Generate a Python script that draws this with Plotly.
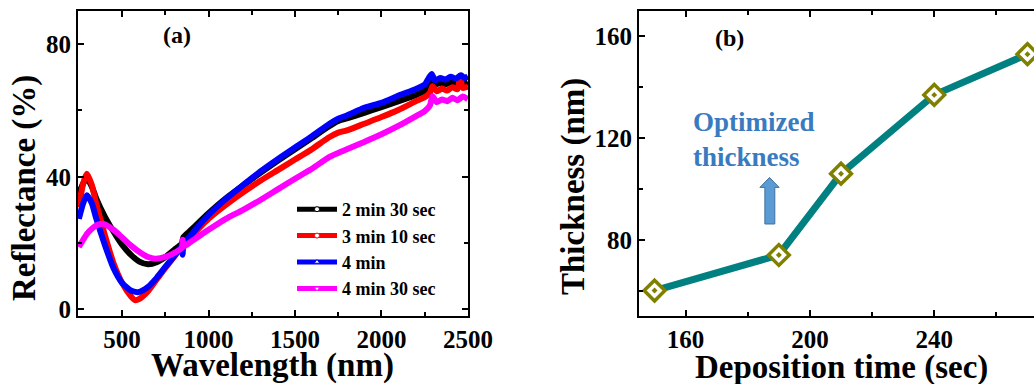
import plotly.graph_objects as go

# ---------------- Panel (a): reflectance spectra ----------------
wl_black = [250, 275, 296, 325, 350, 400, 450, 500, 550, 600, 650, 700, 750, 800, 845,
            855, 900, 1000, 1100, 1200, 1300, 1400, 1500, 1600, 1700, 1750, 1800, 1900,
            2000, 2100, 2200, 2250, 2290, 2310, 2340, 2370, 2400, 2430, 2460, 2480, 2500]
r_black = [35.0, 38.0, 39.5, 37.0, 33.5, 28.0, 23.5, 19.5, 16.5, 14.4, 13.6, 14.2, 15.8, 17.9, 19.8,
           21.8, 24.0, 29.0, 33.5, 37.4, 41.2, 44.8, 48.3, 51.8, 55.3, 56.8, 57.6, 59.3,
           61.0, 62.8, 64.7, 66.0, 68.5, 67.8, 68.3, 67.9, 68.5, 68.1, 68.6, 68.2, 68.5]

wl_red = [250, 275, 296, 325, 350, 400, 450, 500, 550, 575, 600, 650, 700, 750, 800, 845,
          855, 900, 1000, 1100, 1200, 1300, 1400, 1500, 1600, 1700, 1750, 1800, 1900,
          2000, 2100, 2200, 2250, 2280, 2295, 2320, 2350, 2380, 2410, 2440, 2455, 2470, 2500]
r_red = [30.8, 38.0, 40.9, 37.5, 32.0, 22.5, 14.0, 8.0, 4.0, 2.8, 3.2, 5.5, 9.0, 12.5, 15.8, 19.0,
         19.5, 22.0, 27.3, 31.5, 35.3, 38.8, 42.0, 45.2, 48.4, 52.0, 53.3, 54.0, 56.0,
         58.0, 60.2, 62.8, 64.0, 65.3, 67.3, 65.8, 66.6, 66.0, 67.0, 66.4, 70.5, 66.8, 67.2]

wl_blue = [250, 275, 296, 325, 350, 400, 450, 500, 550, 594, 650, 700, 750, 800, 845,
           850, 855, 900, 1000, 1100, 1200, 1300, 1400, 1500, 1600, 1700, 1750, 1800, 1900,
           2000, 2100, 2200, 2250, 2290, 2310, 2340, 2370, 2400, 2430, 2460, 2480, 2500]
r_blue = [27.3, 32.0, 34.4, 32.0, 27.5, 19.5, 12.5, 8.0, 5.7, 5.2, 6.8, 9.5, 12.8, 16.0, 18.8,
          16.5, 19.5, 22.5, 28.5, 33.3, 37.5, 41.6, 45.3, 48.8, 52.3, 56.0, 57.5, 58.5, 60.8,
          62.3, 64.5, 66.5, 67.8, 71.0, 69.0, 69.8, 69.3, 70.2, 69.6, 70.6, 69.8, 70.3]

wl_pink = [250, 275, 300, 350, 392, 450, 500, 550, 600, 650, 691, 750, 800, 845,
           850, 855, 900, 1000, 1100, 1200, 1300, 1400, 1500, 1600, 1700, 1750, 1800, 1900,
           2000, 2100, 2200, 2250, 2280, 2295, 2320, 2350, 2380, 2410, 2440, 2470, 2500]
r_pink = [18.8, 21.0, 23.0, 25.3, 25.8, 24.0, 21.7, 19.3, 17.3, 15.8, 15.3, 15.8, 17.0, 18.5,
          21.0, 19.0, 20.5, 24.0, 27.3, 30.0, 33.0, 36.2, 39.4, 42.5, 46.0, 47.2, 48.3, 50.5,
          52.8, 55.4, 58.3, 59.8, 61.5, 64.3, 62.5, 63.3, 62.8, 63.8, 63.1, 64.2, 63.4]

series_names = ["2 min 30 sec", "3 min 10 sec", "4 min", "4 min 30 sec"]
series_colors = ["#000000", "#ff0000", "#0000ff", "#ff00ff"]
series_symbols = ["circle", "circle", "triangle-up", "triangle-down"]

# ---------------- Panel (b): thickness vs deposition time ----------------
dep_time = [150, 190, 210, 240, 270]
thickness = [60, 74, 106, 137, 153]

# Decorative arrow in panel (b), in data units of panel (b)
arrow_x = [185.5, 188.7, 188.7, 190.1, 187.0, 183.9, 185.5]
arrow_y = [86.2, 86.2, 100.6, 100.6, 104.5, 100.6, 100.6]

FONT = "Liberation Serif"

fig = go.Figure()

data_a = [(wl_black, r_black), (wl_red, r_red), (wl_blue, r_blue), (wl_pink, r_pink)]
for (xs, ys), name, col in zip(data_a, series_names, series_colors):
    fig.add_trace(go.Scatter(
        x=xs, y=ys, mode="lines", name=name, showlegend=False,
        line=dict(color=col, width=6, shape="spline", smoothing=0.6),
        xaxis="x", yaxis="y", legendgroup=name,
    ))

# legend-only entries (line with a small white marker)
for name, col, sym in zip(series_names, series_colors, series_symbols):
    fig.add_trace(go.Scatter(
        x=[None], y=[None], mode="lines+markers", name=name,
        line=dict(color=col, width=5),
        marker=dict(symbol=sym, size=5, color="white", line=dict(color=col, width=1)),
        xaxis="x", yaxis="y", legendgroup=name,
    ))

fig.add_trace(go.Scatter(
    x=dep_time, y=thickness, mode="lines+markers", showlegend=False,
    line=dict(color="#008080", width=7),
    marker=dict(symbol="diamond-dot", size=16, color="white",
                line=dict(color="#808000", width=3.5)),
    xaxis="x2", yaxis="y2", cliponaxis=False,
))

arrow_path = "M " + " L ".join(f"{x},{y}" for x, y in zip(arrow_x, arrow_y)) + " Z"
fig.add_shape(type="path", path=arrow_path, xref="x2", yref="y2",
              fillcolor="#5b9bd5", line=dict(color="#41719c", width=1))

ax_common = dict(
    showline=True, linewidth=2, linecolor="black", mirror="allticks",
    ticks="inside", ticklen=6, tickwidth=1.5, tickcolor="black",
    showgrid=False, zeroline=False, ticklabeloverflow="allow",
    tickfont=dict(family=FONT, size=25, color="black", weight="bold"),
    minor=dict(ticks="inside", ticklen=4, tickwidth=1.5, tickcolor="black", showgrid=False),
)

ydom = [1 - 316 / 384, 1 - 11 / 384]

fig.update_layout(
    width=1034, height=384,
    margin=dict(l=0, r=0, t=0, b=0, autoexpand=False),
    paper_bgcolor="white", plot_bgcolor="white",
    xaxis=dict(ax_common, domain=[78 / 1034, 468 / 1034], range=[245, 2500.5],
               dtick=500, tick0=0, minor=dict(ax_common["minor"], dtick=250), anchor="y"),
    yaxis=dict(ax_common, domain=ydom, range=[-2, 90], dtick=40, tick0=0,
               minor=dict(ax_common["minor"], dtick=20), anchor="x"),
    xaxis2=dict(ax_common, domain=[639 / 1034, 1.0], range=[145, 272.1],
                dtick=40, tick0=0, minor=dict(ax_common["minor"], dtick=20), anchor="y2"),
    yaxis2=dict(ax_common, domain=ydom, range=[50, 170], dtick=40, tick0=0, mirror=False,
                minor=dict(ax_common["minor"], dtick=20), anchor="x2"),
    legend=dict(x=292 / 1034, y=1 - 191 / 384, xanchor="left", yanchor="top",
                bgcolor="rgba(0,0,0,0)", tracegroupgap=0, itemwidth=40,
                font=dict(family=FONT, size=18, color="black", weight="bold")),
    showlegend=True,
)

title_font = dict(family=FONT, size=33, color="black", weight="bold")
ann = [
    dict(text="Reflectance (%)", x=25 / 1034, y=1 - 188 / 384, textangle=-90, font=title_font),
    dict(text="Wavelength (nm)", x=272 / 1034, y=1 - 365 / 384, font=title_font),
    dict(text="Thickness (nm)", x=573 / 1034, y=1 - 187 / 384, textangle=-90, font=title_font),
    dict(text="Deposition time (sec)", x=841 / 1034, y=1 - 367 / 384, font=title_font),
    dict(text="(a)", x=177 / 1034, y=1 - 35 / 384,
         font=dict(family=FONT, size=24, color="black", weight="bold")),
    dict(text="(b)", x=729 / 1034, y=1 - 38 / 384,
         font=dict(family=FONT, size=24, color="black", weight="bold")),
    dict(text="Optimized<br>thickness", x=691 / 1034, y=1 - 139 / 384, xanchor="left",
         align="left", font=dict(family=FONT, size=27, color="#3a7bbf", weight="bold")),
]
for a in ann:
    a.setdefault("xanchor", "center")
    fig.add_annotation(xref="paper", yref="paper", showarrow=False, yanchor="middle", **a)

# remove the page's default body margin so the figure sits at the window origin
post = ("document.documentElement.style.margin='0';document.body.style.margin='0';"
        "document.body.style.padding='0';document.body.style.overflow='hidden';")
fig.write_html("out.html", config={"displayModeBar": False}, post_script=post)
